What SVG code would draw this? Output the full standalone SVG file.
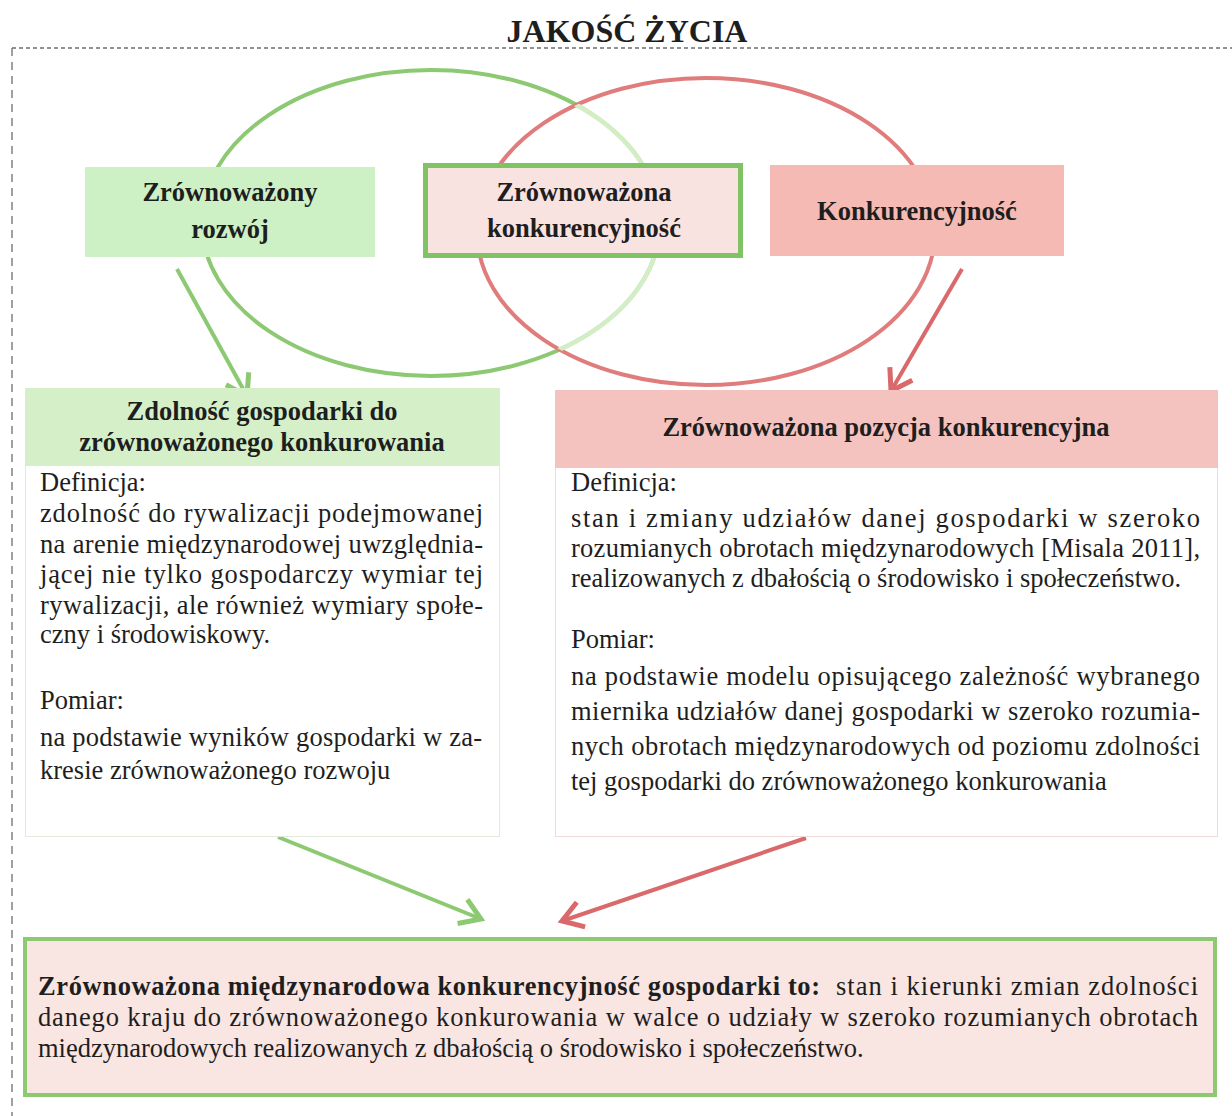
<svg xmlns="http://www.w3.org/2000/svg" width="1232" height="1116" viewBox="0 0 1232 1116">
<style>
text{font-family:"Liberation Serif","Times New Roman",serif;fill:#1e1e1e}
.b{font-weight:bold;font-size:26.5px}
.r{font-size:26.5px}
.c{text-anchor:middle}
.title{font-weight:bold;font-size:32px;text-anchor:middle}
.gline{stroke:#8cc972;stroke-width:4;fill:none}
.rline{stroke:#d9696a;stroke-width:4;fill:none}
</style>
<defs>
<marker id="ag" markerUnits="userSpaceOnUse" markerWidth="40" markerHeight="40" refX="0" refY="0" viewBox="-30 -20 40 40" orient="auto" overflow="visible">
<path d="M-20,-13 L0,0 L-20,13" fill="none" stroke="#8cc972" stroke-width="5" stroke-linejoin="miter"/>
</marker>
<marker id="ar" markerUnits="userSpaceOnUse" markerWidth="40" markerHeight="40" refX="0" refY="0" viewBox="-30 -20 40 40" orient="auto" overflow="visible">
<path d="M-20,-13 L0,0 L-20,13" fill="none" stroke="#d9696a" stroke-width="5" stroke-linejoin="miter"/>
</marker>
<clipPath id="inRed"><ellipse cx="706" cy="231.5" rx="229" ry="153.5"/></clipPath>
</defs>
<rect width="1232" height="1116" fill="#ffffff"/>

<g id="title"><text class="title" x="627" y="42">JAKOŚĆ ŻYCIA</text></g>

<g id="frame">
<path d="M12,48 H1232" stroke="#6e6e6e" stroke-width="1.3" stroke-dasharray="4 3" fill="none"/>
<path d="M12,48 V1116" stroke="#6e6e6e" stroke-width="1.3" stroke-dasharray="8 6" fill="none"/>
</g>

<g id="circles">
<ellipse cx="431" cy="223" rx="229" ry="153" fill="none" stroke="#8cc972" stroke-width="4"/>
<ellipse cx="706" cy="231.5" rx="229" ry="153.5" fill="none" stroke="#e07c7c" stroke-width="4"/>
<ellipse cx="431" cy="223" rx="229" ry="153" fill="none" stroke="#d3eec4" stroke-width="4.5" clip-path="url(#inRed)"/>
</g>

<g id="connectors">
<path class="gline" d="M177,269 L247,396" marker-end="url(#ag)"/>
<path class="rline" d="M962,269 L891,391" marker-end="url(#ar)"/>
<path class="gline" d="M278,837 L481,919" marker-end="url(#ag)"/>
<path class="rline" d="M806,838 L562,921" marker-end="url(#ar)"/>
</g>

<g id="node-rozwoj">
<rect x="85" y="167" width="290" height="90" fill="#cdf0c5"/>
<text class="b c" x="230" y="201">Zrównoważony</text>
<text class="b c" x="230" y="238">rozwój</text>
</g>

<g id="node-zk">
<rect x="425.5" y="165.5" width="315" height="90" fill="#f9e3e0" stroke="#7fc365" stroke-width="5"/>
<text class="b c" x="584" y="201">Zrównoważona</text>
<text class="b c" x="584" y="237">konkurencyjność</text>
</g>

<g id="node-konk">
<rect x="770" y="165" width="294" height="91" fill="#f5bab3"/>
<text class="b c" x="917" y="220">Konkurencyjność</text>
</g>

<g id="node-zdolnosc">
<rect x="25.5" y="388.5" width="474" height="448" fill="#ffffff" stroke="#e2eadd" stroke-width="1"/>
<rect x="25" y="388" width="475" height="78" fill="#d5f0c8"/>
<text class="b c" x="262" y="420">Zdolność gospodarki do</text>
<text class="b c" x="262" y="451">zrównoważonego konkurowania</text>
<text class="r" x="40" y="491">Definicja:</text>
<text class="r" x="40" y="522" textLength="443" lengthAdjust="spacing">zdolność do rywalizacji podejmowanej</text>
<text class="r" x="40" y="553" textLength="443" lengthAdjust="spacing">na arenie międzynarodowej uwzględnia-</text>
<text class="r" x="40" y="583" textLength="443" lengthAdjust="spacing">jącej nie tylko gospodarczy wymiar tej</text>
<text class="r" x="40" y="614" textLength="443" lengthAdjust="spacing">rywalizacji, ale również wymiary społe-</text>
<text class="r" x="40" y="643">czny i środowiskowy.</text>
<text class="r" x="40" y="709">Pomiar:</text>
<text class="r" x="40" y="746" textLength="442" lengthAdjust="spacing">na podstawie wyników gospodarki w za-</text>
<text class="r" x="40" y="779">kresie zrównoważonego rozwoju</text>
</g>

<g id="node-pozycja">
<rect x="555.5" y="390.5" width="662" height="446" fill="#ffffff" stroke="#f0dada" stroke-width="1"/>
<rect x="555" y="390" width="663" height="78" fill="#f5c3bf"/>
<text class="b c" x="886" y="436">Zrównoważona pozycja konkurencyjna</text>
<text class="r" x="571" y="491">Definicja:</text>
<text class="r" x="571" y="527" textLength="629" lengthAdjust="spacing">stan i zmiany udziałów danej gospodarki w szeroko</text>
<text class="r" x="571" y="557" textLength="629" lengthAdjust="spacing">rozumianych obrotach międzynarodowych [Misala 2011],</text>
<text class="r" x="571" y="587">realizowanych z dbałością o środowisko i społeczeństwo.</text>
<text class="r" x="571" y="648">Pomiar:</text>
<text class="r" x="571" y="685" textLength="629" lengthAdjust="spacing">na podstawie modelu opisującego zależność wybranego</text>
<text class="r" x="571" y="720" textLength="629" lengthAdjust="spacing">miernika udziałów danej gospodarki w szeroko rozumia-</text>
<text class="r" x="571" y="755" textLength="629" lengthAdjust="spacing">nych obrotach międzynarodowych od poziomu zdolności</text>
<text class="r" x="571" y="790">tej gospodarki do zrównoważonego konkurowania</text>
</g>

<g id="node-definicja">
<rect x="25" y="939" width="1190" height="156" fill="#f9e5e1" stroke="#8cc972" stroke-width="4"/>
<text class="b" x="38" y="995" textLength="782" lengthAdjust="spacing">Zrównoważona międzynarodowa konkurencyjność gospodarki to:</text>
<text class="r" x="836" y="995" textLength="362" lengthAdjust="spacing">stan i kierunki zmian zdolności</text>
<text class="r" x="38" y="1026" textLength="1160" lengthAdjust="spacing">danego kraju do zrównoważonego konkurowania w walce o udziały w szeroko rozumianych obrotach</text>
<text class="r" x="38" y="1057">międzynarodowych realizowanych z dbałością o środowisko i społeczeństwo.</text>
</g>
</svg>
